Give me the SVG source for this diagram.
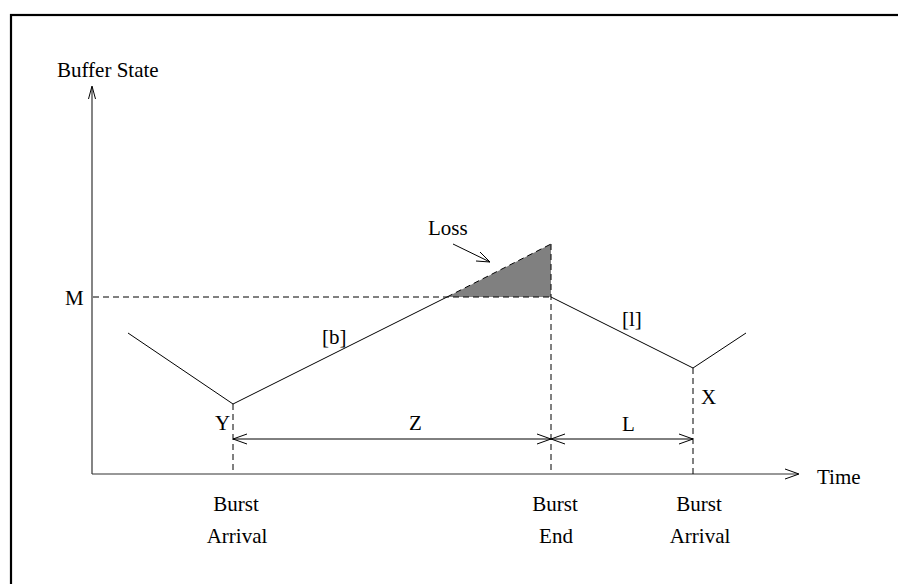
<svg xmlns="http://www.w3.org/2000/svg" width="898" height="584" viewBox="0 0 898 584">
<style>
text{font-family:"Liberation Serif","Times New Roman",serif;font-size:21px;fill:#000}
.ln{stroke:#000;stroke-width:1;fill:none}
.ax{stroke:#333;stroke-width:1.2;fill:none}
.ds{stroke:#000;stroke-width:1;fill:none;stroke-dasharray:6,4}
.hd{stroke:#000;stroke-width:1;fill:none}
</style>
<rect x="0" y="0" width="898" height="584" fill="#fff"/>
<rect x="11" y="15" width="900" height="600" fill="none" stroke="#000" stroke-width="2.2"/>
<g id="loss-area">
<polygon points="447,297 551,244 551,297" fill="#808080"/>
</g>
<g id="axes">
<line class="ax" x1="92" y1="474" x2="92" y2="87"/>
<polyline class="hd" points="88.5,99 92,86 95.5,99"/>
<line class="ax" x1="92" y1="474" x2="798" y2="474"/>
<polyline class="hd" points="785,469 799,474 785,479"/>
<text x="57" y="77">Buffer State</text>
<text x="817" y="484">Time</text>
<text x="65" y="305">M</text>
</g>
<g id="connectors">
<line class="ds" x1="93" y1="297" x2="551" y2="297"/>
<polyline class="ln" points="128,333 233,404 447,297"/>
<line class="ds" x1="447" y1="297" x2="551" y2="244"/>
<polyline class="ln" points="551,297 693,368 746,333"/>
<line class="ds" x1="233" y1="404" x2="233" y2="474"/>
<line class="ds" x1="551" y1="244" x2="551" y2="474"/>
<line class="ds" x1="693" y1="368" x2="693" y2="474"/>
<line class="ln" x1="233" y1="439" x2="693" y2="439"/>
<polyline class="hd" points="247,434 233,439 247,444"/>
<polyline class="hd" points="537,434 551,439 537,444"/>
<polyline class="hd" points="565,434 551,439 565,444"/>
<polyline class="hd" points="679,434 693,439 679,444"/>
<line class="ln" x1="453" y1="244" x2="490" y2="262"/>
<polyline class="hd" points="476,261 490,262 480,252"/>
</g>
<g id="labels">
<text x="428" y="235">Loss</text>
<text x="322" y="344">[b]</text>
<text x="622" y="326">[l]</text>
<text x="215" y="430">Y</text>
<text x="409" y="430">Z</text>
<text x="622" y="431">L</text>
<text x="701" y="404">X</text>
</g>
<g id="burst-arrival-1">
<text x="236" y="511" text-anchor="middle">Burst</text>
<text x="237" y="543" text-anchor="middle">Arrival</text>
</g>
<g id="burst-end">
<text x="555" y="511" text-anchor="middle">Burst</text>
<text x="556" y="543" text-anchor="middle">End</text>
</g>
<g id="burst-arrival-2">
<text x="699" y="511" text-anchor="middle">Burst</text>
<text x="700" y="543" text-anchor="middle">Arrival</text>
</g>
</svg>
